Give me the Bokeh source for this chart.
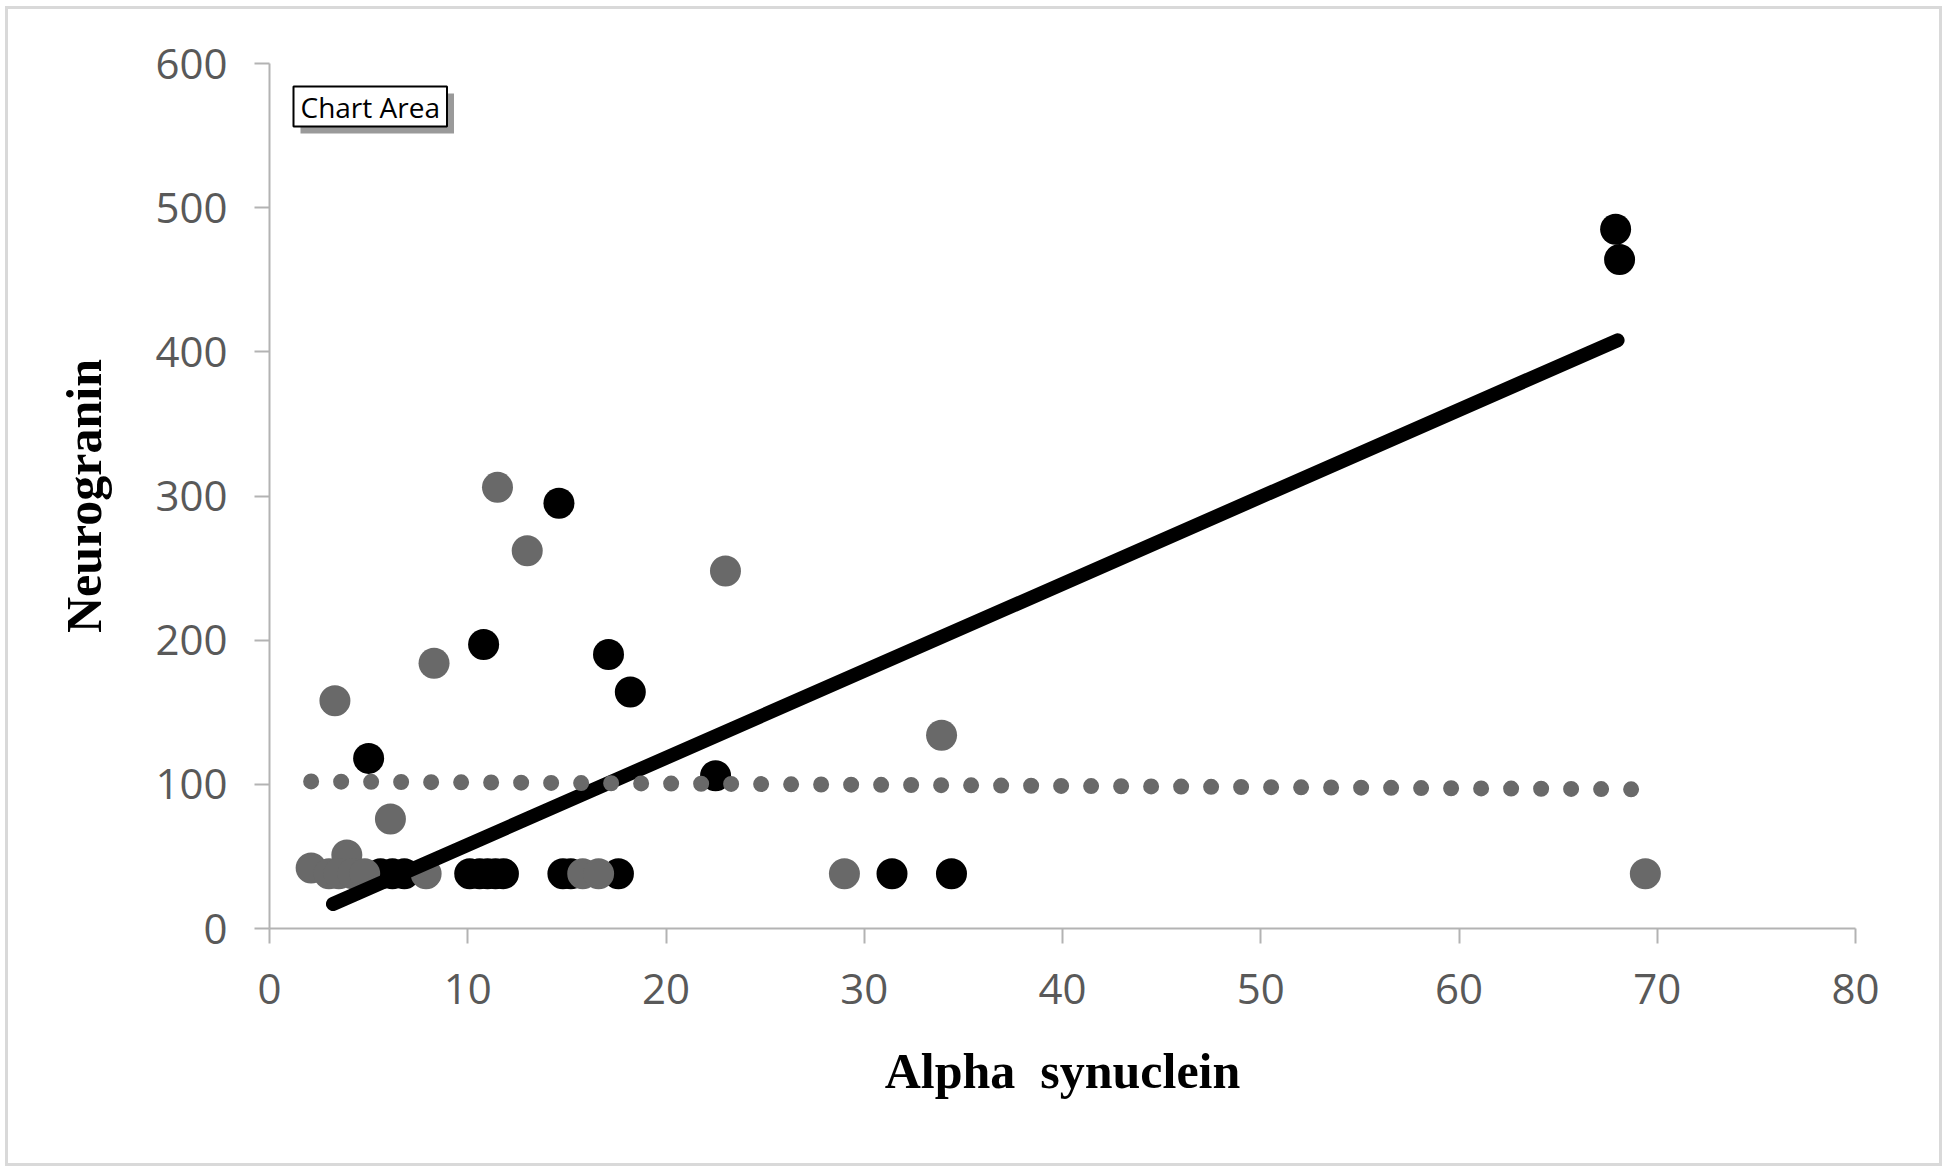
from bokeh.plotting import figure
from bokeh.models import Range1d, FixedTicker, Label
from bokeh.embed import file_html
from bokeh.resources import INLINE

# ---- data ----
x_ticks = [0, 10, 20, 30, 40, 50, 60, 70, 80]
y_ticks = [0, 100, 200, 300, 400, 500, 600]

black_x = [67.9, 68.1, 14.6, 10.8, 17.1, 18.2, 5.0, 22.5,
           5.6, 6.2, 6.8, 10.1, 10.6, 11.0, 11.4, 11.8, 14.8, 15.2, 17.6, 31.4, 34.4]
black_y = [485, 464, 295, 197, 190, 164, 118, 106,
           38, 38, 38, 38, 38, 38, 38, 38, 38, 38, 38, 38, 38]

gray_x = [11.5, 13.0, 23.0, 8.3, 3.3, 33.9, 6.1, 3.9, 2.1,
          3.0, 3.5, 4.2, 4.8, 7.9, 15.8, 16.6, 29.0, 69.4]
gray_y = [306, 262, 248, 184, 158, 134, 76, 51, 42,
          38, 38, 38, 38, 38, 38, 38, 38, 38]

black_fit_x = [3.2, 68.0]
black_fit_y = [17, 408]
gray_fit_x = [2.1, 69.4]
gray_fit_y = [102, 96.5]

x_title = "Alpha\u00a0 synuclein"
y_title = "Neurogranin"

GRAY = "#696969"
AXIS = "#b3b3b3"

p = figure(width=1937, height=1160,
           x_range=Range1d(0, 80), y_range=Range1d(0, 600),
           output_backend="svg", toolbar_location=None,
           min_border_left=261, min_border_right=90,
           min_border_top=54, min_border_bottom=241)
p.styles = {"border": "3px solid #d9d9d9", "margin": "6px 0px 0px 5px"}
p.outline_line_color = None
p.xgrid.visible = False
p.ygrid.visible = False
p.background_fill_color = "white"
p.border_fill_color = "white"

for ax, ticks in ((p.xaxis[0], x_ticks), (p.yaxis[0], y_ticks)):
    ax.ticker = FixedTicker(ticks=ticks)
    ax.axis_line_color = AXIS
    ax.axis_line_width = 2
    ax.major_tick_line_color = AXIS
    ax.major_tick_line_width = 2
    ax.major_tick_out = 15
    ax.major_tick_in = 0
    ax.minor_tick_line_color = None
    ax.major_label_text_font = "Open Sans"
    ax.major_label_text_font_size = "42px"
    ax.major_label_text_color = "#595959"
    ax.axis_label_text_font = "Liberation Serif"
    ax.axis_label_text_font_style = "bold"
    ax.axis_label_text_font_size = "50px"
    ax.axis_label_text_color = "black"

p.xaxis[0].axis_label = x_title
p.yaxis[0].axis_label = y_title
p.xaxis[0].major_label_standoff = 30
p.yaxis[0].major_label_standoff = 27
p.xaxis[0].axis_label_standoff = 36
p.yaxis[0].axis_label_standoff = 40

p.scatter(black_x, black_y, size=31, color="black", line_color=None)
p.scatter(gray_x, gray_y, size=31, color=GRAY, line_color=None)
p.line(black_fit_x, black_fit_y, line_color="black", line_width=14, line_cap="round")
p.line(gray_fit_x, gray_fit_y, line_color=GRAY, line_width=16,
       line_dash="0 30", line_cap="round")

# "Chart Area" tooltip box with a drop shadow
shadow = Label(x=0, y=600, x_offset=31, y_offset=-30, text="Chart Area",
               text_font="Open Sans", text_font_size="28px", text_color="#9a9a9a",
               background_fill_color="#9a9a9a", background_fill_alpha=1.0,
               padding=(7, 1), anchor="top_left")
tip = Label(x=0, y=600, x_offset=24, y_offset=-23, text="Chart Area",
            text_font="Open Sans", text_font_size="28px", text_color="black",
            background_fill_color="white", border_line_color="black",
            border_line_width=2, padding=(7, 1), anchor="top_left")
p.add_layout(shadow)
p.add_layout(tip)

open("out.html", "w").write(file_html(p, INLINE))
